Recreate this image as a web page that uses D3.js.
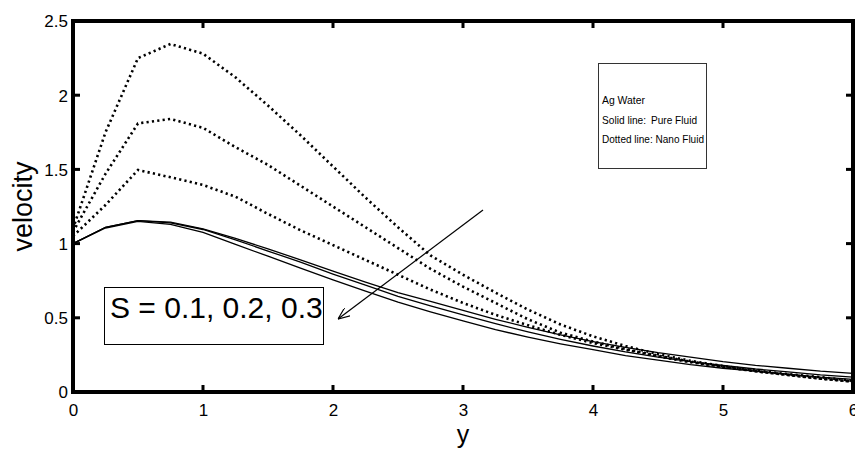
<!DOCTYPE html>
<html>
<head>
<meta charset="utf-8">
<script src="https://cdnjs.cloudflare.com/ajax/libs/d3/7.8.5/d3.min.js"></script>
<style>
  body { margin: 0; background: #fff; }
  svg text { font-family: "Liberation Sans", Arial, sans-serif; fill: #000; }
</style>
</head>
<body>
<script>
// y positions (step 0.25)
const yPoints = [0, 0.25, 0.5, 0.75, 1, 1.25, 1.5, 1.75, 2, 2.25, 2.5, 2.75, 3,
  3.25, 3.5, 3.75, 4, 4.25, 4.5, 4.75, 5, 5.25, 5.5, 5.75, 6];

// Pure fluid (solid), S = 0.1, 0.2, 0.3
const pureS1 = [1.00, 1.11, 1.155, 1.145, 1.10, 1.035, 0.965, 0.89, 0.815, 0.74, 0.67, 0.61, 0.55,
  0.49, 0.435, 0.385, 0.34, 0.30, 0.265, 0.235, 0.205, 0.18, 0.16, 0.14, 0.125];
const pureS2 = [1.00, 1.11, 1.155, 1.14, 1.095, 1.025, 0.95, 0.875, 0.795, 0.72, 0.645, 0.58, 0.52,
  0.46, 0.405, 0.355, 0.31, 0.27, 0.235, 0.205, 0.18, 0.155, 0.135, 0.115, 0.10];
const pureS3 = [1.00, 1.105, 1.15, 1.13, 1.075, 0.995, 0.915, 0.835, 0.755, 0.68, 0.605, 0.54, 0.48,
  0.42, 0.37, 0.325, 0.285, 0.245, 0.215, 0.185, 0.16, 0.14, 0.12, 0.10, 0.085];

// Nano fluid (dotted)
const nanoS1 = [1.10, 1.75, 2.25, 2.345, 2.28, 2.12, 1.93, 1.73, 1.52, 1.31, 1.11, 0.92, 0.79,
  0.67, 0.555, 0.455, 0.375, 0.31, 0.255, 0.21, 0.175, 0.145, 0.12, 0.10, 0.075];
const nanoS2 = [1.08, 1.47, 1.81, 1.84, 1.78, 1.65, 1.53, 1.39, 1.25, 1.11, 0.97, 0.83, 0.71,
  0.60, 0.49, 0.40, 0.34, 0.29, 0.245, 0.205, 0.17, 0.14, 0.115, 0.09, 0.07];
const nanoS3 = [1.05, 1.26, 1.496, 1.447, 1.395, 1.316, 1.20, 1.09, 0.99, 0.89, 0.79, 0.69, 0.60,
  0.52, 0.45, 0.385, 0.33, 0.285, 0.24, 0.20, 0.17, 0.14, 0.115, 0.09, 0.07];

const xTicks = [0, 1, 2, 3, 4, 5, 6];
const yTicks = [0, 0.5, 1, 1.5, 2, 2.5];
const legendLines = ["Ag Water", "Solid line:", "Dotted line: Nano Fluid"];

const width = 855, height = 450;
const margin = { left: 73, top: 21, right: 2, bottom: 58 };

const svg = d3.select('body').append('svg')
  .attr('width', width)
  .attr('height', height);

const x = d3.scaleLinear().domain([0, 6]).range([margin.left, width - margin.right]);
const y = d3.scaleLinear().domain([0, 2.5]).range([height - margin.bottom, margin.top]);

const line = d3.line()
  .x((d, i) => x(yPoints[i]))
  .y(d => y(d));

// curves
[pureS1, pureS2, pureS3].forEach(s => {
  svg.append('path')
    .attr('d', line(s))
    .attr('fill', 'none')
    .attr('stroke', '#000')
    .attr('stroke-width', 1.3);
});
[nanoS1, nanoS2, nanoS3].forEach(s => {
  svg.append('path')
    .attr('d', line(s))
    .attr('fill', 'none')
    .attr('stroke', '#000')
    .attr('stroke-width', 2.6)
    .attr('stroke-dasharray', '2.2,3.2');
});

// tick labels via d3 axes (lines drawn separately below)
const fmt = d => String(d);
const axBottom = svg.append('g').attr('transform', `translate(0,${y(0)})`)
  .call(d3.axisBottom(x).tickValues(xTicks).tickSize(0).tickFormat(fmt));
const axLeft = svg.append('g').attr('transform', `translate(${x(0)},0)`)
  .call(d3.axisLeft(y).tickValues(yTicks).tickSize(0).tickFormat(fmt));
[axBottom, axLeft].forEach(g => {
  g.select('.domain').remove();
  g.selectAll('.tick line').remove();
  g.selectAll('.tick text').attr('font-size', 17).attr('fill', '#000');
});
axBottom.selectAll('.tick text').attr('dy', '0.71em').attr('y', 12);
axLeft.selectAll('.tick text').attr('x', -5).attr('dy', '0.35em');

// inward tick marks on all four sides, as filled bars
const tw = 3, tl = 7;
const marks = svg.append('g').attr('fill', '#000');
xTicks.forEach(t => {
  marks.append('rect').attr('x', x(t) - tw / 2).attr('y', y(0) - tl).attr('width', tw).attr('height', tl);
  marks.append('rect').attr('x', x(t) - tw / 2).attr('y', y(2.5)).attr('width', tw).attr('height', tl);
});
yTicks.forEach(t => {
  marks.append('rect').attr('x', x(0)).attr('y', y(t) - tw / 2).attr('width', tl).attr('height', tw);
  marks.append('rect').attr('x', x(6) - tl).attr('y', y(t) - tw / 2).attr('width', tl).attr('height', tw);
});

// heavy frame, as filled bars
const fw = 4;
marks.append('rect').attr('x', x(0) - fw / 2).attr('y', y(2.5) - fw / 2).attr('width', x(6) - x(0) + fw).attr('height', fw);
marks.append('rect').attr('x', x(0) - fw / 2).attr('y', y(0) - fw / 2).attr('width', x(6) - x(0) + fw).attr('height', fw);
marks.append('rect').attr('x', x(0) - fw / 2).attr('y', y(2.5) - fw / 2).attr('width', fw).attr('height', y(0) - y(2.5) + fw);
marks.append('rect').attr('x', x(6) - fw / 2).attr('y', y(2.5) - fw / 2).attr('width', fw).attr('height', y(0) - y(2.5) + fw);

// axis titles
svg.append('text')
  .attr('x', x(3)).attr('y', 443)
  .attr('text-anchor', 'middle')
  .attr('font-size', 25)
  .text('y');
svg.append('text')
  .attr('transform', `translate(32,${y(1.25)}) rotate(-90)`)
  .attr('text-anchor', 'middle')
  .attr('font-size', 27)
  .text('velocity');

// info box
svg.append('rect')
  .attr('x', 598.5).attr('y', 63.5).attr('width', 108).attr('height', 105)
  .attr('fill', '#fff').attr('stroke', '#333').attr('stroke-width', 1);
const legendWidths = [43, 44, 102];
legendLines.forEach((t, i) => {
  svg.append('text')
    .attr('x', 602).attr('y', 104 + i * 19.5)
    .attr('font-size', 11.5)
    .attr('textLength', legendWidths[i])
    .attr('lengthAdjust', 'spacingAndGlyphs')
    .text(t);
});
svg.append('text')
  .attr('x', 651).attr('y', 104 + 19.5)
  .attr('font-size', 11.5)
  .attr('textLength', 46)
  .attr('lengthAdjust', 'spacingAndGlyphs')
  .text('Pure Fluid');

// S box
svg.append('rect')
  .attr('x', 104.5).attr('y', 287.5).attr('width', 219).attr('height', 57)
  .attr('fill', '#fff').attr('stroke', '#000').attr('stroke-width', 1);
svg.append('text')
  .attr('x', 110).attr('y', 318)
  .attr('font-size', 30)
  .text('S = 0.1, 0.2, 0.3');

// arrow
svg.append('defs').append('marker')
  .attr('id', 'head')
  .attr('viewBox', '0 0 12 10')
  .attr('refX', 12).attr('refY', 5)
  .attr('markerWidth', 12).attr('markerHeight', 10)
  .attr('markerUnits', 'userSpaceOnUse')
  .attr('orient', 'auto')
  .append('path')
  .attr('d', 'M0,0 L12,5 L0,10')
  .attr('fill', 'none').attr('stroke', '#000').attr('stroke-width', 1.2);
svg.append('line')
  .attr('x1', 483).attr('y1', 210).attr('x2', 338).attr('y2', 319)
  .attr('stroke', '#000').attr('stroke-width', 1.2)
  .attr('marker-end', 'url(#head)');
</script>
</body>
</html>
